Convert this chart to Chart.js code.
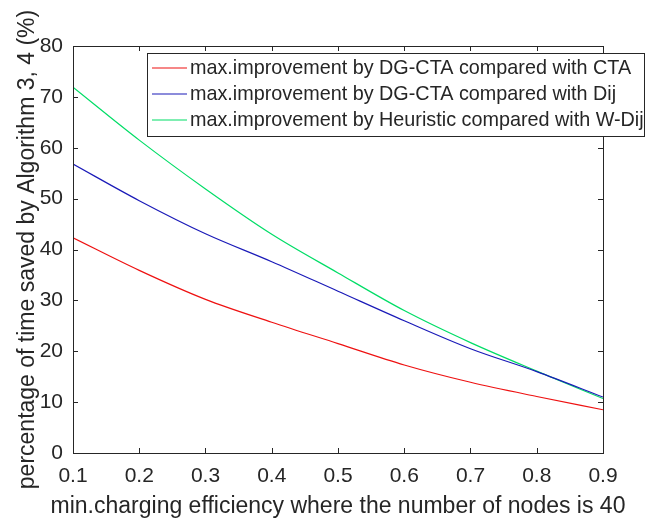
<!DOCTYPE html>
<html>
<head>
<meta charset="utf-8">
<script src="https://cdn.jsdelivr.net/npm/chart.js@4.4.1/dist/chart.umd.min.js"></script>
<style>
  html, body { margin: 0; padding: 0; background: #fff; }
  #wrap { width: 646px; height: 525px; }
</style>
</head>
<body>
<div id="wrap"><canvas id="myChart" width="646" height="525"></canvas></div>
<script>
// min. charging efficiency (x axis)
const efficiency = [0.1, 0.2, 0.3, 0.4, 0.5, 0.6, 0.7, 0.8, 0.9];

// time saved (%) for each comparison
const dgctaVsCta = [42.3, 35.9, 30.2, 25.7, 21.5, 17.3, 13.9, 11.1, 8.5];
const dgctaVsDij = [56.8, 49.6, 43.1, 37.6, 31.8, 26.0, 20.5, 16.0, 11.0];
const heurVsWDij = [71.9, 61.5, 51.9, 43.0, 35.4, 28.0, 21.7, 16.1, 10.7];

const seriesNames = [
    'max.improvement by DG-CTA compared with CTA',
    'max.improvement by DG-CTA compared with Dij',
    'max.improvement by Heuristic compared with W-Dij'
];
const seriesColors = ['#ee1111', '#1a1ab8', '#00dd66'];

const yTicks = [0, 10, 20, 30, 40, 50, 60, 70, 80];

const xTitle = 'min.charging efficiency where the number of nodes is 40';
const yTitle = 'percentage of time saved by Algorithm 3, 4 (%)';

const axisColor = '#262626';
const fontFamily = '"Liberation Sans", Arial, sans-serif';

function toPoints(ys) {
    return ys.map((y, i) => ({ x: efficiency[i], y: y }));
}

// caixa do eixo com ticks para dentro (estilo matlab)
const framePlugin = {
    id: 'frame',
    afterDatasetsDraw(chart) {
        const ctx = chart.ctx;
        const a = chart.chartArea;
        const sx = chart.scales.x, sy = chart.scales.y;
        const tl = 5;
        ctx.save();
        ctx.strokeStyle = axisColor;
        ctx.lineWidth = 1;
        ctx.beginPath();
        sx.ticks.forEach(t => {
            const px = Math.round(sx.getPixelForValue(t.value)) + 0.5;
            ctx.moveTo(px, a.bottom); ctx.lineTo(px, a.bottom - tl);
            ctx.moveTo(px, a.top); ctx.lineTo(px, a.top + tl);
        });
        sy.ticks.forEach(t => {
            const py = Math.round(sy.getPixelForValue(t.value)) + 0.5;
            ctx.moveTo(a.left, py); ctx.lineTo(a.left + tl, py);
            ctx.moveTo(a.right, py); ctx.lineTo(a.right - tl, py);
        });
        ctx.stroke();
        ctx.strokeRect(Math.round(a.left) + 0.5, Math.round(a.top) + 0.5,
            Math.round(a.right - a.left), Math.round(a.bottom - a.top));

        // titulo do eixo x sem limite de largura (o do chart.js comprime o texto)
        ctx.font = '23px ' + fontFamily;
        ctx.fillStyle = axisColor;
        ctx.textAlign = 'center';
        ctx.textBaseline = 'middle';
        ctx.fillText(xTitle, (a.left + a.right) / 2, 507);
        ctx.restore();
    }
};

// legenda desenhada dentro do grafico, no canto superior
const boxLegend = {
    id: 'boxLegend',
    afterDraw(chart) {
        const ctx = chart.ctx;
        const bx = 147.5, by = 53.5, bw = 497, bh = 83;
        ctx.save();
        ctx.fillStyle = '#fff';
        ctx.fillRect(bx, by, bw, bh);
        ctx.strokeStyle = axisColor;
        ctx.lineWidth = 1;
        ctx.strokeRect(bx, by, bw, bh);
        ctx.font = '19.8px ' + fontFamily;
        ctx.textBaseline = 'middle';
        ctx.fillStyle = axisColor;
        chart.data.datasets.forEach((ds, i) => {
            const y = by + 14.5 + i * 26;
            ctx.strokeStyle = ds.borderColor;
            ctx.lineWidth = ds.borderWidth;
            ctx.beginPath();
            ctx.moveTo(152, y);
            ctx.lineTo(187, y);
            ctx.stroke();
            ctx.fillText(ds.label, 190, y + 1);
        });
        ctx.restore();
    }
};

const datasets = [dgctaVsCta, dgctaVsDij, heurVsWDij].map((ys, i) => ({
    label: seriesNames[i],
    data: toPoints(ys),
    borderColor: seriesColors[i],
    backgroundColor: seriesColors[i],
    borderWidth: 1.2,
    pointRadius: 0,
    fill: false,
    cubicInterpolationMode: 'monotone'
}));

new Chart(document.getElementById('myChart').getContext('2d'), {
    type: 'line',
    data: { datasets: datasets },
    options: {
        responsive: false,
        animation: false,
        layout: { padding: { left: 0, top: 46, right: 43, bottom: 0 } },
        plugins: {
            legend: { display: false },
            tooltip: { enabled: false }
        },
        scales: {
            x: {
                type: 'linear',
                min: 0.1,
                max: 0.9,
                afterFit(scale) { scale.height = 72; },
                border: { display: false },
                grid: { display: false, drawTicks: false },
                ticks: {
                    stepSize: 0.1,
                    padding: 11,
                    color: axisColor,
                    font: { size: 21, family: fontFamily },
                    callback: v => v.toFixed(1)
                }
            },
            y: {
                min: 0,
                max: 80,
                afterFit(scale) { scale.width = 73; },
                afterBuildTicks(scale) { scale.ticks = yTicks.map(v => ({ value: v })); },
                border: { display: false },
                grid: { display: false, drawTicks: false },
                ticks: {
                    padding: 10,
                    color: axisColor,
                    font: { size: 21, family: fontFamily }
                },
                title: {
                    display: true,
                    text: yTitle,
                    color: axisColor,
                    font: { size: 23, family: fontFamily },
                    padding: { top: 14, bottom: 0 }
                }
            }
        }
    },
    plugins: [framePlugin, boxLegend]
});
</script>
</body>
</html>
